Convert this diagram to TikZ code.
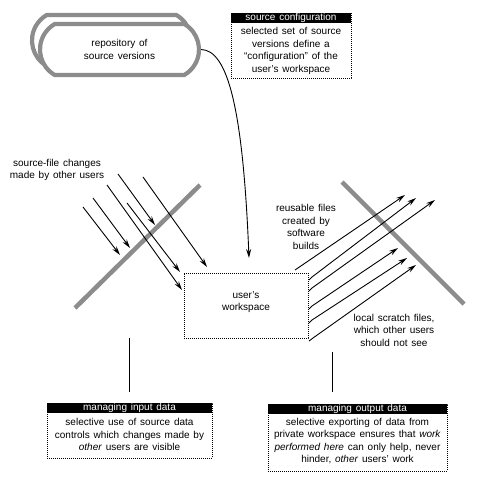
\documentclass[tikz,border=0pt]{standalone}
\usepackage{fontspec}
\setmainfont{Liberation Sans}
\usetikzlibrary{arrows.meta,shapes.misc}
\newcommand\diagfont{\fontsize{10}{12.5}\selectfont\spaceskip=3.8pt plus 0.5pt minus 0.5pt\relax}
\begin{document}
\begin{tikzpicture}[x=1pt,y=-1pt,
  txt/.style={font=\diagfont, align=center, inner sep=0pt},
  hatch/.style={draw=black!45, line width=4.5pt},
  repo/.style={rounded rectangle, rounded rectangle arc length=120,
    draw=black!45, line width=4.2pt, fill=white,
    minimum width=159pt, minimum height=51pt, font=\diagfont, align=center, inner sep=0pt},
  flow/.style={line width=0.9pt, -{Stealth[length=9pt,width=5pt]}},
  link/.style={line width=0.9pt},
  dotbox/.style={draw, line width=0.7pt, dash pattern=on 0.8pt off 1.2pt, inner sep=0pt},
  header/.style={fill=black, text=white, font=\diagfont, inner sep=0pt, minimum height=10pt}]
\useasboundingbox (0,0) rectangle (478,481);

% repository of source versions
\node[repo] (repoback) at (111.5,40.5) {};
\node[repo] (repo) at (119.5,49.5) {repository of\\source versions};

% source configuration
\node[dotbox, minimum width=120pt, minimum height=65pt] (cfg) at (291,45.5) {};
\node[header, minimum width=120pt, anchor=north] (cfgh) at (cfg.north) {source configuration};
\node[txt] (cfgt) at (291,51) {selected set of source\\versions define a\\``configuration'' of the\\user’s workspace};

% workspace
\node[dotbox, minimum width=124pt, minimum height=65pt] (ws) at (246,305.5) {};
\node[txt] (wst) at (246,302) {user’s\\workspace};

% curve from repository to workspace
\coordinate (wsin) at (249,258);
\draw[flow] (repo.east) .. controls (228,50) and (243,110) .. (wsin);

% hatched boundaries
\draw[hatch] (75,308) -- (200,185);
\draw[hatch] (342,182) -- (464,304);

% incoming changes
\node[txt] (srcchg) at (57,170) {source-file changes\\made by other users};
\draw[flow] (83,207) -- (120,255);
\draw[flow] (93,198) -- (130,248);
\draw[flow] (118,174) -- (155,225);
\draw[flow] (107,185) -- (182,290);
\draw[flow] (127,203) -- (180,272);
\draw[flow] (143,177) -- (207,267);

% outgoing files
\node[txt] (reuse) at (306,227) {reusable files\\created by\\software\\builds};
\node[txt] (scratch) at (394,330) {local scratch files,\\which other users\\should not see};
\draw[flow] (295,270) -- (405,195);
\draw[flow] (309,280) -- (312,277) -- (416,198);
\draw[flow] (309,291) -- (312,288) -- (435,200);
\draw[flow] (309,309) -- (312,306) -- (398,248);
\draw[flow] (309,323) -- (312,320) -- (407,258);
\draw[flow] (309,341) -- (313,338) -- (416,265);

% managing input data
\node[dotbox, minimum width=165pt, minimum height=55pt] (inbox) at (129.5,430.5) {};
\node[header, minimum width=165pt, anchor=north] (inh) at (inbox.north) {managing input data};
\node[txt] (intext) at (129.5,434.5) {selective use of source data\\controls which changes made by\\\textit{other} users are visible};
\coordinate (inlinetop) at (129,338);
\coordinate (inlinebot) at (129,392);
\draw[link] (inlinetop) -- (inlinebot);

% managing output data
\node[dotbox, minimum width=179pt, minimum height=67pt] (outbox) at (357.5,437.5) {};
\node[header, minimum width=179pt, anchor=north] (outh) at (outbox.north) {managing output data};
\node[txt] (outtext) at (357.5,441) {selective exporting of data from\\private workspace ensures that \textit{work}\\\textit{performed here} can only help, never\\hinder, \textit{other} users’ work};
\coordinate (outlinetop) at (332,352);
\coordinate (outlinebot) at (332,392);
\draw[link] (outlinetop) -- (outlinebot);
\end{tikzpicture}
\end{document}
